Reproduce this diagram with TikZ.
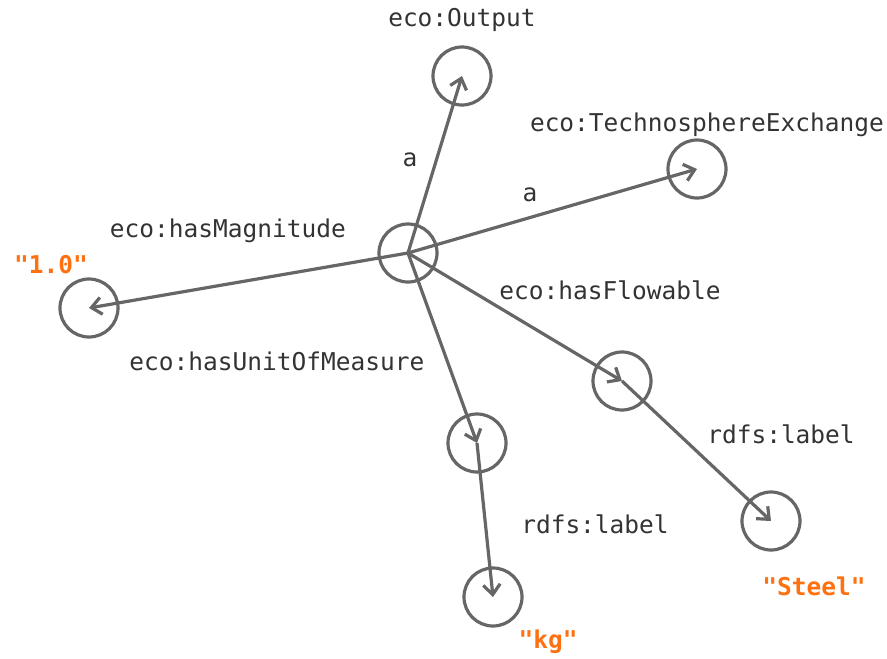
\documentclass[tikz,border=0pt]{standalone}
\usepackage{fontspec}
\setmonofont{DejaVu Sans Mono}
\usetikzlibrary{arrows.meta}
\definecolor{edgegrey}{RGB}{102,102,102}
\definecolor{textgrey}{RGB}{51,51,51}
\definecolor{litorange}{RGB}{255,112,16}

\begin{document}
\begin{tikzpicture}[x=1pt,y=-1pt,
    every node/.style={font=\ttfamily\fontsize{24.5}{28}\selectfont, text=textgrey, inner sep=0pt},
    link/.style={draw=edgegrey, line width=3.2pt, -{Straight Barb[length=10pt,width=17pt]}},
    lit/.style={text=litorange, font=\ttfamily\bfseries\fontsize{24.5}{28}\selectfont}]
    \useasboundingbox (0,0) rectangle (887,659);

    \coordinate (E) at (408,253);
    \coordinate (O) at (462,76);
    \coordinate (T) at (697,169);
    \coordinate (M) at (89,308);
    \coordinate (F) at (622,381);
    \coordinate (S) at (771,521);
    \coordinate (U) at (477,443);
    \coordinate (K) at (493,597);

    \foreach \from/\to in {E/O, E/T, E/M, E/F, E/U, F/S, U/K}
        \draw[link] (\from) -- (\to);

    \foreach \vertex in {E, O, T, M, F, S, U, K}
        \draw[edgegrey, line width=3.2pt] (\vertex) circle (29pt);

    % class and edge labels
    \node (lO) at (462,20) {eco:Output};
    \node (lT) at (707,125) {eco:TechnosphereExchange};
    \node (la1) at (410,160) {a};
    \node (la2) at (530,195) {a};
    \node (lM) at (228,231) {eco:hasMagnitude};
    \node (lF) at (610,290) {eco:hasFlowable};
    \node (lU) at (277,361) {eco:hasUnitOfMeasure};
    \node (lS) at (781,434) {rdfs:label};
    \node (lK) at (595,524) {rdfs:label};

    % literals
    \node[lit] (vM) at (51,265) {"1.0"};
    \node[lit] (vS) at (814,586) {"Steel"};
    \node[lit] (vK) at (548,642) {"kg"};
\end{tikzpicture}
\end{document}
